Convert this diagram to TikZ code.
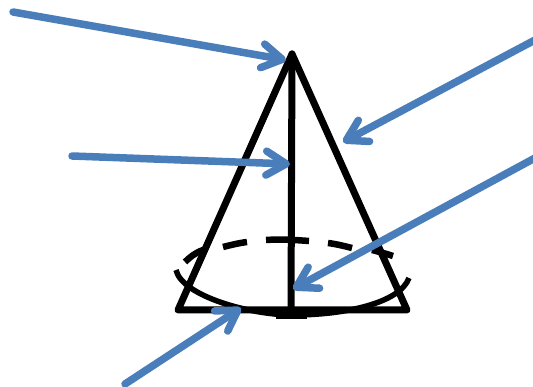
\documentclass[tikz,border=0pt]{standalone}
\usetikzlibrary{arrows.meta}
\definecolor{arrowblue}{RGB}{74,126,187}
\tikzset{
  cone/.style={line width=7pt,black,line join=round,line cap=round},
  rim/.style={line width=5.5pt,black},
  rimdash/.style={line width=6.5pt,black},
  pointer/.style={line width=7.5pt,arrowblue,line cap=round,line join=round,
    -{Straight Barb[length=20pt,width=24pt,round,line width=7.5pt]}}
}
\begin{document}
\begin{tikzpicture}[x=1pt,y=-1pt]
\useasboundingbox (0,0) rectangle (533,387);
\coordinate (apex) at (292,54);
\coordinate (bl) at (178,310);
\coordinate (br) at (407,310);
\coordinate (foot) at (291,310);
\draw[rim] (176,270) .. controls (182,296) and (250,315) .. (293,315)
  .. controls (345,315) and (400,303) .. (409,278);
\draw[line width=7.5pt,black] (276,315) -- (307,315);
\draw[rimdash] (185,262) .. controls (190,257) and (195,253) .. (203,250);
\draw[rimdash] (223,247) .. controls (231,245) and (239,243) .. (247,242);
\draw[rimdash] (266,240) .. controls (280,239) and (296,240) .. (309,241);
\draw[rimdash] (328,243) .. controls (336,244) and (344,246) .. (352,248);
\draw[rimdash] (372,250) .. controls (380,252) and (387,254) .. (393,256);
\draw[cone] (bl) -- (apex) -- (br) -- cycle;
\draw[cone] (apex) -- (foot);
\coordinate (s1) at (13,12);   \coordinate (t1) at (286,60);
\coordinate (s2) at (72,156);  \coordinate (t2) at (290,164);
\coordinate (s3) at (535,40);  \coordinate (t3) at (343,142);
\coordinate (s4) at (535,158); \coordinate (t4) at (293,289);
\coordinate (s5) at (125,384); \coordinate (t5) at (241,308);
\foreach \i in {1,...,5} \draw[pointer] (s\i) -- (t\i);
\end{tikzpicture}
\end{document}
